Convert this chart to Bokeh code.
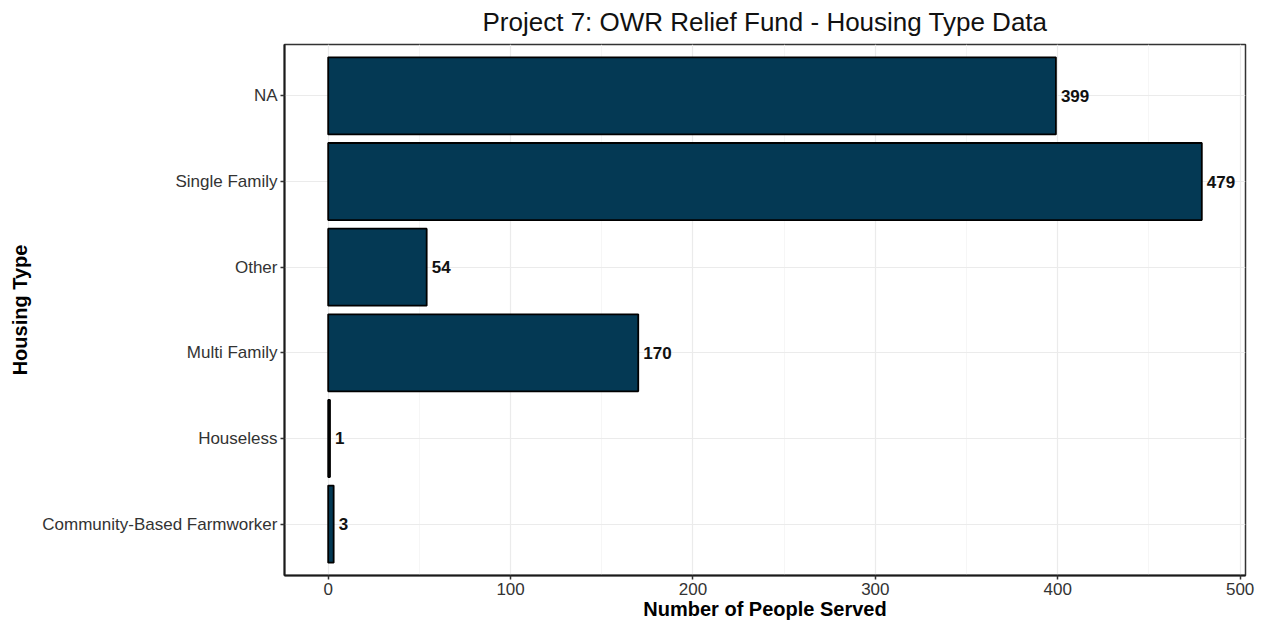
from bokeh.plotting import figure
from bokeh.models import FactorRange, Range1d, FixedTicker, ColumnDataSource
from bokeh.embed import file_html
from bokeh.resources import INLINE
from bokeh.core.properties import value

# ---- data ----
categories = ["NA", "Single Family", "Other", "Multi Family", "Houseless",
              "Community-Based Farmworker"]
people_served = [399, 479, 54, 170, 1, 3]
x_ticks = [0, 100, 200, 300, 400, 500]
x_minor_ticks = [50, 150, 250, 350, 450]

FONT = "Liberation Sans"
BAR = "#043954"

src = ColumnDataSource(dict(
    cat=categories,
    val=people_served,
    lab=[str(v) for v in people_served],
))

factors = list(reversed(categories))

p = figure(
    width=1265, height=624,
    y_range=FactorRange(factors=factors, range_padding=0.1,
                        range_padding_units="absolute"),
    x_range=Range1d(-23.95, 502.95),
    output_backend="svg", toolbar_location=None,
    title="Project 7: OWR Relief Fund - Housing Type Data",
    min_border_left=284, min_border_right=20,
    min_border_top=44, min_border_bottom=49,
)

p.hbar(y="cat", left=0, right="val", height=0.9, source=src,
       fill_color=BAR, line_color="black", line_width=1.8)

p.text(x="val", y="cat", text="lab", source=src, x_offset=5,
       text_align="left", text_baseline="middle",
       text_font=value(FONT), text_font_style="bold",
       text_font_size="17px", text_color="#111111")

# title
p.title.text_font = FONT
p.title.text_font_size = "26px"
p.title.text_font_style = "normal"
p.title.text_color = "#111111"
p.title.align = "center"
p.title.vertical_align = "top"
p.title.standoff = 12

# frame
p.outline_line_color = "#333333"
p.outline_line_width = 1.5
p.background_fill_color = "white"
p.border_fill_color = "white"

# axes
p.xaxis.ticker = FixedTicker(ticks=x_ticks, minor_ticks=x_minor_ticks)
p.xaxis.axis_label = "Number of People Served"
p.yaxis.axis_label = "Housing Type"

for ax in (p.xaxis, p.yaxis):
    ax.axis_label_text_font = FONT
    ax.axis_label_text_font_size = "20px"
    ax.axis_label_text_font_style = "bold"
    ax.axis_label_text_color = "#000000"
    ax.major_label_text_font = FONT
    ax.major_label_text_font_size = "17px"
    ax.major_label_text_color = "#333333"
    ax.axis_line_color = "#1a1a1a"
    ax.axis_line_width = 2
    ax.major_tick_line_color = "#333333"
    ax.major_tick_line_width = 1.5
    ax.major_tick_in = 0
    ax.major_tick_out = 4
    ax.minor_tick_line_color = None
    ax.major_label_standoff = 3

p.xaxis.axis_label_standoff = 0
p.yaxis.axis_label_standoff = 8

# grid
p.xgrid.grid_line_color = "#ebebeb"
p.xgrid.grid_line_width = 1.2
p.xgrid.minor_grid_line_color = "#f4f4f4"
p.xgrid.minor_grid_line_width = 0.8
p.ygrid.grid_line_color = "#ebebeb"
p.ygrid.grid_line_width = 1.2

open("out.html", "w").write(file_html(p, INLINE))
